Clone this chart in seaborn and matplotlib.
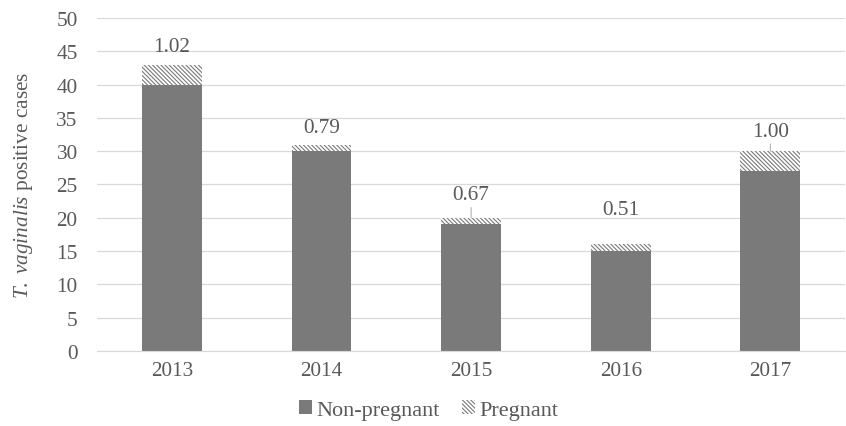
import numpy as np
import pandas as pd
import matplotlib
matplotlib.use("Agg")
import matplotlib.pyplot as plt
import matplotlib.patches as mpatches
import seaborn as sns

# dados
years = ["2013", "2014", "2015", "2016", "2017"]
non_pregnant = [40, 30, 19, 15, 27]
pregnant = [3, 1, 1, 1, 3]
rates = ["1.02", "0.79", "0.67", "0.51", "1.00"]

totals = [a + b for a, b in zip(non_pregnant, pregnant)]
df = pd.DataFrame({"year": years, "non_pregnant": non_pregnant, "total": totals})

sns.set_style("white")
plt.rcParams["font.family"] = ["Liberation Serif", "DejaVu Serif"]
plt.rcParams["mathtext.fontset"] = "custom"
plt.rcParams["mathtext.rm"] = "Liberation Serif"
plt.rcParams["mathtext.it"] = "Liberation Serif:italic"
plt.rcParams["hatch.linewidth"] = 0.8

text_c = "#595959"
bar_c = "#7a7a7a"
fs = 15.3
hatch = "\\" * 8

fig = plt.figure(figsize=(8.46, 4.27), dpi=100)
ax = fig.add_axes([0.1147, 0.1756, 0.8843, 0.78])

# barras empilhadas: total hachurado por baixo, não-grávidas por cima
sns.barplot(data=df, x="year", y="total", color="white", saturation=1, width=0.4,
            edgecolor=bar_c, linewidth=0, hatch=hatch, ax=ax)
sns.barplot(data=df, x="year", y="non_pregnant", color=bar_c, saturation=1,
            width=0.4, linewidth=0, ax=ax)

# rótulos (offset em pixels acima do topo)
offsets = [18, 17, 23, 35, 20]
leader = [False, False, True, False, True]
for i, (t, r) in enumerate(zip(totals, rates)):
    ax.annotate(r, xy=(i, t), xytext=(0, offsets[i] * 0.72), textcoords="offset points",
                ha="center", va="center", fontsize=fs, color=text_c,
                arrowprops=dict(arrowstyle="-", color="#a6a6a6", lw=0.7,
                                shrinkA=8, shrinkB=0) if leader[i] else None)

ax.set_ylim(0, 50)
ax.set_yticks(range(0, 51, 5))
ax.set_xlim(-0.5, 4.5)
ax.yaxis.grid(True, color="#d9d9d9", lw=0.9)
ax.set_axisbelow(True)
for s in ["top", "right", "left"]:
    ax.spines[s].set_visible(False)
ax.spines["bottom"].set_color("#d9d9d9")
ax.tick_params(axis="both", length=0, labelsize=fs, labelcolor=text_c)
ax.tick_params(axis="x", pad=7)
ax.tick_params(axis="y", pad=14)
ax.set_xlabel("")
ax.set_ylabel(r"$\mathit{T.\ vaginalis}$ positive cases", fontsize=fs, color=text_c, labelpad=15)

h1 = mpatches.Patch(facecolor=bar_c, edgecolor="none", label="Non-pregnant")
h2 = mpatches.Patch(facecolor="white", edgecolor=bar_c, lw=0, hatch=hatch, label="Pregnant")
fig.legend(handles=[h1, h2], loc="center", bbox_to_anchor=(0.5065, 0.0375), ncol=2,
           frameon=False, fontsize=16, labelcolor=text_c, handlelength=0.6,
           handleheight=0.6, handletextpad=0.18, columnspacing=1.0)

fig.savefig("out.png", dpi=100)
